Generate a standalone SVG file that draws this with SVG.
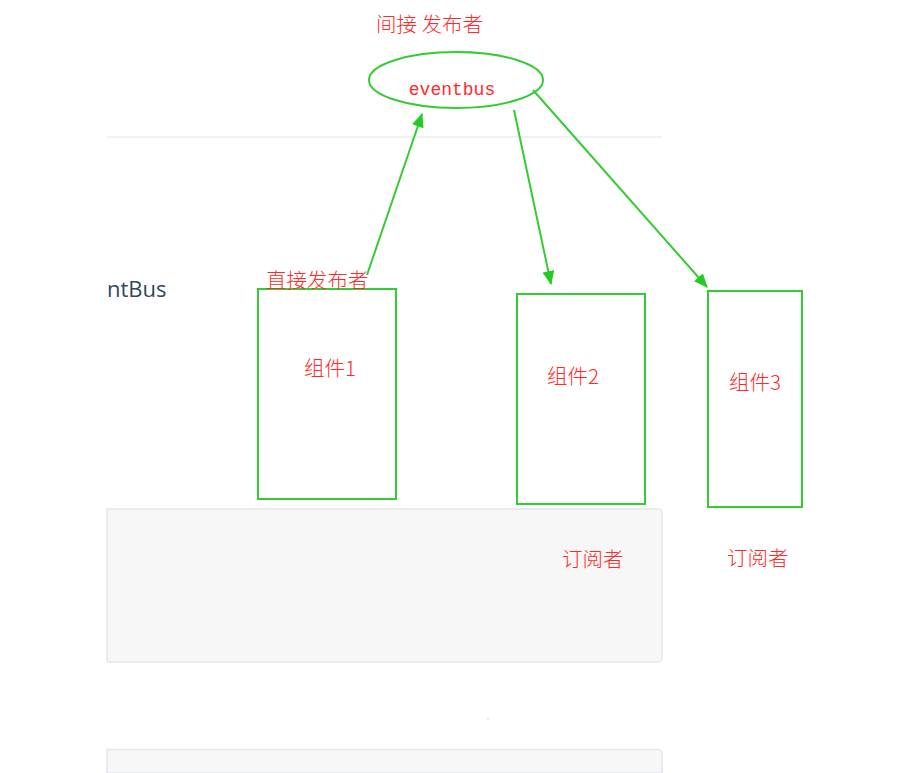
<svg xmlns="http://www.w3.org/2000/svg" width="910" height="773" viewBox="0 0 910 773">
<style>
.g{fill:none;stroke:#33cc33;stroke-width:2}
.t{fill:#ff2a2a;font-family:"Noto Sans CJK SC","Noto Sans",sans-serif;font-size:20.5px;font-weight:300}
.m{fill:#ff2a2a;font-family:"Liberation Mono",monospace;font-size:18px}
.c{stroke:#33cc33;stroke-width:2;fill:none}
</style>
<defs>
<marker id="ah" markerWidth="14" markerHeight="12" refX="13" refY="6" orient="auto" markerUnits="userSpaceOnUse">
<path d="M0,0 L14,6 L0,12 Z" fill="#22cc22"/>
</marker>
</defs>
<rect width="910" height="773" fill="#fff"/>
<g id="background">
<line x1="107" y1="137" x2="662" y2="137" stroke="#ececec" stroke-width="1.5"/>
<path d="M107,509 H658 a4,4 0 0 1 4,4 V658 a4,4 0 0 1 -4,4 H107 Z" fill="#f7f7f7" stroke="#e3e6ea" stroke-width="1.5"/>
<path d="M107,749.5 H658 a4,4 0 0 1 4,4 V773 H107 Z" fill="#f7f7f7" stroke="#e3e6ea" stroke-width="1.5"/>
<text x="107" y="297" font-family="'Open Sans',sans-serif" font-size="22" fill="#34495e">ntBus</text>
<circle cx="488" cy="719" r="0.8" fill="#9be89b"/>
</g>
<g id="eventbus">
<ellipse cx="456" cy="80" rx="87" ry="28" class="g"/>
<text x="452" y="95" class="m" text-anchor="middle">eventbus</text>
<text x="376" y="32" class="t" font-size="21.5">间接 发布者</text>
</g>
<g id="comp1">
<rect x="258" y="289" width="138" height="210" class="g"/>
<text x="266" y="288" class="t" font-size="21.5">直接发布者</text>
<text x="330" y="376" class="t" text-anchor="middle">组件1</text>
</g>
<g id="comp2">
<rect x="517" y="294" width="128" height="210" class="g"/>
<text x="573" y="384" class="t" text-anchor="middle">组件2</text>
<text x="562" y="567" class="t">订阅者</text>
</g>
<g id="comp3">
<rect x="708" y="291" width="94" height="216" class="g"/>
<text x="755" y="390" class="t" text-anchor="middle">组件3</text>
<text x="727" y="566" class="t">订阅者</text>
</g>
<g id="connectors">
<line x1="367" y1="275" x2="422" y2="114" class="c" marker-end="url(#ah)"/>
<line x1="514" y1="110" x2="551" y2="284" class="c" marker-end="url(#ah)"/>
<line x1="533" y1="90" x2="707" y2="287" class="c" marker-end="url(#ah)"/>
</g>
</svg>
